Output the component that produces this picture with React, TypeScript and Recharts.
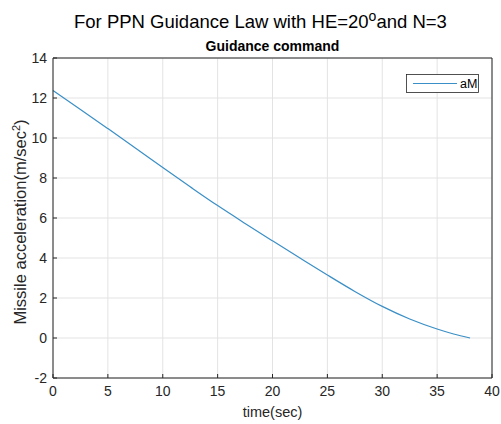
import React from 'react';
import { LineChart, Line, XAxis, YAxis, CartesianGrid } from 'recharts';

const timeSec = [0, 2.5, 5, 7.5, 10, 12.5, 15, 17.5, 20, 22.5, 25, 27.5, 30, 32.5, 35, 36.5, 38];
const aM = [12.37, 11.43, 10.47, 9.5, 8.52, 7.56, 6.62, 5.73, 4.86, 4.0, 3.15, 2.33, 1.58, 0.95, 0.45, 0.2, 0];
const xTicks = [0, 5, 10, 15, 20, 25, 30, 35, 40];
const yTicks = [-2, 0, 2, 4, 6, 8, 10, 12, 14];

const data = timeSec.map((t, i) => ({ t, aM: aM[i] }));

const FONT = '"Liberation Sans", Arial, Helvetica, sans-serif';
const AXIS = '#262626';
const LINE = '#3a8fc6';

export default function App() {
  return (
    <div style={{ position: 'absolute', left: 0, top: 0, width: 501, height: 424, background: '#fff', fontFamily: FONT }}>
      <LineChart width={501} height={424} data={data} margin={{ top: 57, right: 8, bottom: 16, left: 13 }}>
        <CartesianGrid xAxisId="b" yAxisId="l" stroke="#e3e3e3" strokeWidth={1} />
        <XAxis
          xAxisId="b"
          dataKey="t"
          type="number"
          domain={[0, 40]}
          ticks={xTicks}
          height={30}
          stroke={AXIS}
          tickSize={-4}
          tickMargin={12}
          tick={{ fill: AXIS, fontSize: 14, fontFamily: FONT }}
          interval={0}
        />
        <XAxis
          xAxisId="t"
          orientation="top"
          dataKey="t"
          type="number"
          domain={[0, 40]}
          ticks={xTicks}
          height={1}
          stroke={AXIS}
          tickSize={-4}
          tick={false}
          interval={0}
        />
        <YAxis
          yAxisId="l"
          type="number"
          domain={[-2, 14]}
          ticks={yTicks}
          width={40}
          stroke={AXIS}
          tickSize={-4}
          tickMargin={10}
          tick={{ fill: AXIS, fontSize: 14, fontFamily: FONT }}
          interval={0}
        />
        <YAxis
          yAxisId="r"
          orientation="right"
          type="number"
          domain={[-2, 14]}
          ticks={yTicks}
          width={1}
          stroke={AXIS}
          tickSize={-4}
          tick={false}
          interval={0}
        />
        <Line
          xAxisId="b"
          yAxisId="l"
          type="monotone"
          dataKey="aM"
          stroke={LINE}
          strokeWidth={1.2}
          dot={false}
          isAnimationActive={false}
        />
      </LineChart>
      <svg width={501} height={424} style={{ position: 'absolute', left: 0, top: 0, pointerEvents: 'none' }}>
        <text x={74} y={27.5} fontSize={18.5} fill="#000" fontFamily={FONT}>
          For PPN Guidance Law with HE=20
          <tspan fontSize={14} dy={-7}>o</tspan>
          <tspan dy={7}>and N=3</tspan>
        </text>
        <text x={272.5} y={51} fontSize={14} fontWeight="bold" textAnchor="middle" fill="#000" fontFamily={FONT}>
          Guidance command
        </text>
        <text x={272.5} y={417} fontSize={14.5} textAnchor="middle" fill={AXIS} fontFamily={FONT}>
          time(sec)
        </text>
        <text x={26} y={222} fontSize={16.5} textAnchor="middle" fill={AXIS} fontFamily={FONT} transform="rotate(-90 26 222)">
          Missile acceleration(m/sec
          <tspan fontSize={11} dy={-6}>2</tspan>
          <tspan dy={6}>)</tspan>
        </text>
        <rect x={406.5} y={74.5} width={72} height={18} fill="#fff" stroke={AXIS} strokeWidth={0.8} />
        <line x1={413} y1={83.5} x2={457} y2={83.5} stroke={LINE} strokeWidth={1.2} />
        <text x={460} y={88} fontSize={12.5} fill="#000" fontFamily={FONT}>aM</text>
      </svg>
    </div>
  );
}
